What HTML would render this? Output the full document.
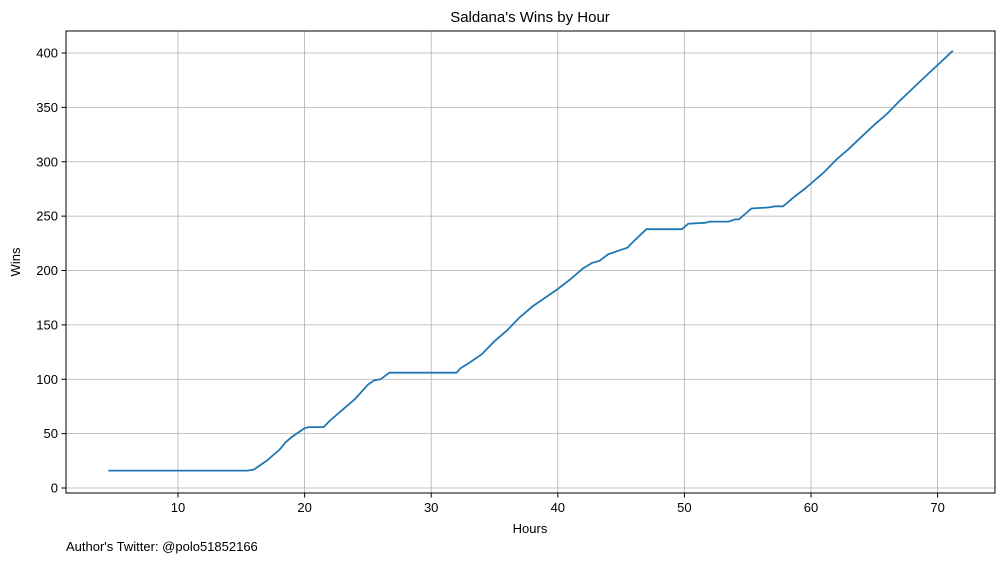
<!DOCTYPE html>
<html><head><meta charset="utf-8"><style>
body{margin:0;background:#fff;}
svg text{font-family:"Liberation Sans","DejaVu Sans",sans-serif;fill:#000;}
</style></head><body>
<svg id="chart" width="1005" height="562" xmlns="http://www.w3.org/2000/svg">
<text x="530" y="22" font-size="15" text-anchor="middle">Saldana's Wins by Hour</text>
<g id="grid"></g>
<rect x="66" y="31" width="929" height="462" fill="none" stroke="#000" stroke-width="1"/>
<g id="ticks"></g>
<path id="line" fill="none" stroke="#1f77b4" stroke-width="1.8"/>
<text x="530" y="533" font-size="13" text-anchor="middle">Hours</text>
<text transform="translate(20,262) rotate(-90)" font-size="13" text-anchor="middle">Wins</text>
<text x="66" y="551" font-size="13">Author's Twitter: @polo51852166</text>
</svg>
<script>
const hours=[4.5,15.5,16,17,18,18.5,19,20,20.3,21.5,22,23,24,25,25.5,26,26.7,32,32.3,33,34,35,36,37,38,39,40,41,42,42.7,43.3,44,45,45.5,46,47,49.8,50.3,51.7,52,53.5,54,54.3,55.3,56.7,57.2,57.8,58.7,59.5,60,61,62,63,64,65,66,67,68,69,70,71.2];
const wins=[16,16,17,25,35,42,47,55,56,56,62,72,82,95,99,100,106,106,110,115,123,135,145,157,167,175,183,192,202,207,209,215,219,221,227,238,238,243,244,245,245,247,247,257,258,259,259,268,275,280,290,302,312,323,334,344,356,367,378,389,402];
const xTicks=[10,20,30,40,50,60,70];
const yTicks=[0,50,100,150,200,250,300,350,400];
const X=h=>51.4+h*12.66;
const Y=w=>488-w*1.0875;
const NS="http://www.w3.org/2000/svg";
const grid=document.getElementById('grid'),ticks=document.getElementById('ticks');
function mk(tag,attrs,parent){const e=document.createElementNS(NS,tag);for(const k in attrs)e.setAttribute(k,attrs[k]);parent.appendChild(e);return e;}
xTicks.forEach(t=>{
  const gl=mk('line',{x1:X(t),x2:X(t),y1:31,y2:493,stroke:'#b0b0b0','stroke-width':0.8},grid);
  
  
  const tk=mk('line',{x1:X(t),x2:X(t),y1:493,y2:497.5,stroke:'#000'},ticks);
  
  
  const tx=mk('text',{x:X(t),y:512,'font-size':13,'text-anchor':'middle'},ticks);
  tx.textContent=t;
  
  
});
yTicks.forEach(t=>{
  const gl=mk('line',{x1:66,x2:995,y1:Y(t),y2:Y(t),stroke:'#b0b0b0','stroke-width':0.8},grid);
  
  
  const tk=mk('line',{x1:61.5,x2:66,y1:Y(t),y2:Y(t),stroke:'#000'},ticks);
  
  
  const tx=mk('text',{x:58,y:Y(t)+4.5,'font-size':13,'text-anchor':'end'},ticks);
  tx.textContent=t;
  
  
});
document.getElementById('line').setAttribute('d',hours.map((h,i)=>(i?'L':'M')+X(h).toFixed(1)+','+Y(wins[i]).toFixed(1)).join(''));
</script>
</body></html>
